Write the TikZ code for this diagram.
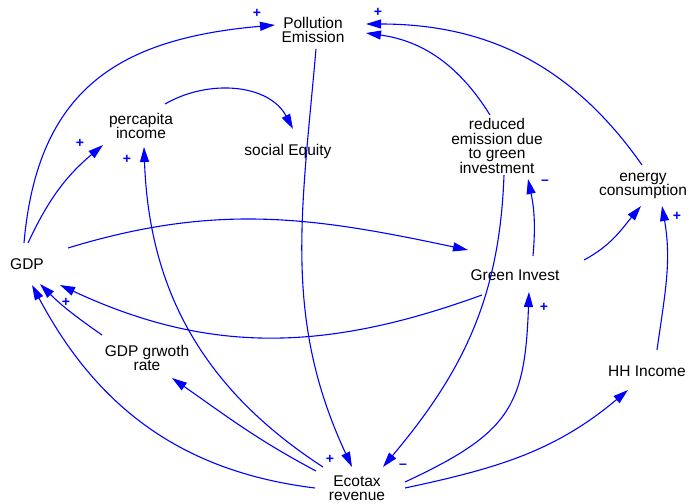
\documentclass[tikz,border=0pt]{standalone}
\usepackage{fontspec}
\setmainfont{Liberation Sans}
\usetikzlibrary{arrows.meta}

\begin{document}
\begin{tikzpicture}
    [x=1pt, y=1pt,
    var/.style={align=center, inner sep=0pt, font=\fontsize{15.5}{14.5}\selectfont},
    link/.style={draw=blue, line width=1.1pt, -{Triangle[length=15pt,width=9pt]}},
    sign/.style={text=blue, inner sep=0pt, font=\fontsize{14}{14}\selectfont\bfseries}]
  \useasboundingbox (0,0) rectangle (689,504);
  % variables
  \node[var] (pol) at (313,474) {Pollution\\ Emission};
  \node[var] (pci) at (141,378) {percapita\\ income};
  \node[var] (soc) at (288,353) {social Equity};
  \node[var] (red) at (497,358) {reduced\\ emission due\\ to green\\ investment};
  \node[var] (ene) at (643,318) {energy\\ consumption};
  \node[var] (gdp) at (27,240) {GDP};
  \node[var] (grn) at (515,229) {Green Invest};
  \node[var] (ggr) at (147,146) {GDP grwoth\\ rate};
  \node[var] (hhi) at (647,133) {HH Income};
  \node[var] (eco) at (357,16) {Ecotax\\ revenue};
  % links
  \draw[link] ([shift={(-3,21)}]gdp.center) to[out=85,in=185,looseness=1.2] ([shift={(-38,5)}]pol.center);
  \draw[link] ([shift={(1,21)}]gdp.center) to[out=65,in=220] ([shift={(-38,-19)}]pci.center);
  \draw[link] ([shift={(24,22)}]pci.center) to[out=30,in=118] ([shift={(5,22)}]soc.center);
  \draw[link] ([shift={(3,-19)}]pol.center) to[out=265,in=115] ([shift={(-5,21)}]eco.center);
  \draw[link] ([shift={(-7,31)}]red.center) to[out=122,in=-8] ([shift={(53,-3)}]pol.center);
  \draw[link] ([shift={(-1,21)}]ene.center) to[out=125,in=0] ([shift={(53,6)}]pol.center);
  \draw[link] ([shift={(18,19)}]grn.center) to[out=85,in=-78] ([shift={(31,-33)}]red.center);
  \draw[link] ([shift={(7,-29)}]red.center) to[out=268,in=50] ([shift={(26,21)}]eco.center);
  \draw[link] ([shift={(41,16)}]gdp.center) to[out=17,in=168] ([shift={(-47,25)}]grn.center);
  \draw[link] ([shift={(-33,-20)}]grn.center) to[out=200,in=-25] ([shift={(33,-21)}]gdp.center);
  \draw[link] ([shift={(69,15)}]grn.center) to[out=28,in=230] ([shift={(-2,-20)}]ene.center);
  \draw[link] ([shift={(10,21)}]hhi.center) to[out=82,in=280] ([shift={(19,-20)}]ene.center);
  \draw[link] ([shift={(-42,0)}]eco.center) to[out=173,in=-62] ([shift={(5,-21)}]gdp.center);
  \draw[link] ([shift={(-34,21)}]eco.center) to[out=147,in=-88] ([shift={(3,-21)}]pci.center);
  \draw[link] ([shift={(-41,17)}]eco.center) to[out=152,in=-35] ([shift={(25,-20)}]ggr.center);
  \draw[link] ([shift={(48,6)}]eco.center) to[out=25,in=-92,looseness=1.3] ([shift={(14,-17)}]grn.center);
  \draw[link] ([shift={(48,0)}]eco.center) to[out=12,in=220] ([shift={(-19,-19)}]hhi.center);
  \draw[link] ([shift={(-45,23)}]ggr.center) to[out=145,in=-45] ([shift={(13,-20)}]gdp.center);
  % polarities
  \node[sign] (p1) at (257,491) {+};
  \node[sign] (p2) at (80,361) {+};
  \node[sign] (p3) at (127,345) {+};
  \node[sign] (p4) at (378,492) {+};
  \node[sign] (p5) at (545,322) {--};
  \node[sign] (p6) at (330,45) {+};
  \node[sign] (p7) at (403,38) {--};
  \node[sign] (p8) at (544,197) {+};
  \node[sign] (p9) at (677,288) {+};
  \node[sign] (p10) at (66,202) {+};
\end{tikzpicture}
\end{document}
